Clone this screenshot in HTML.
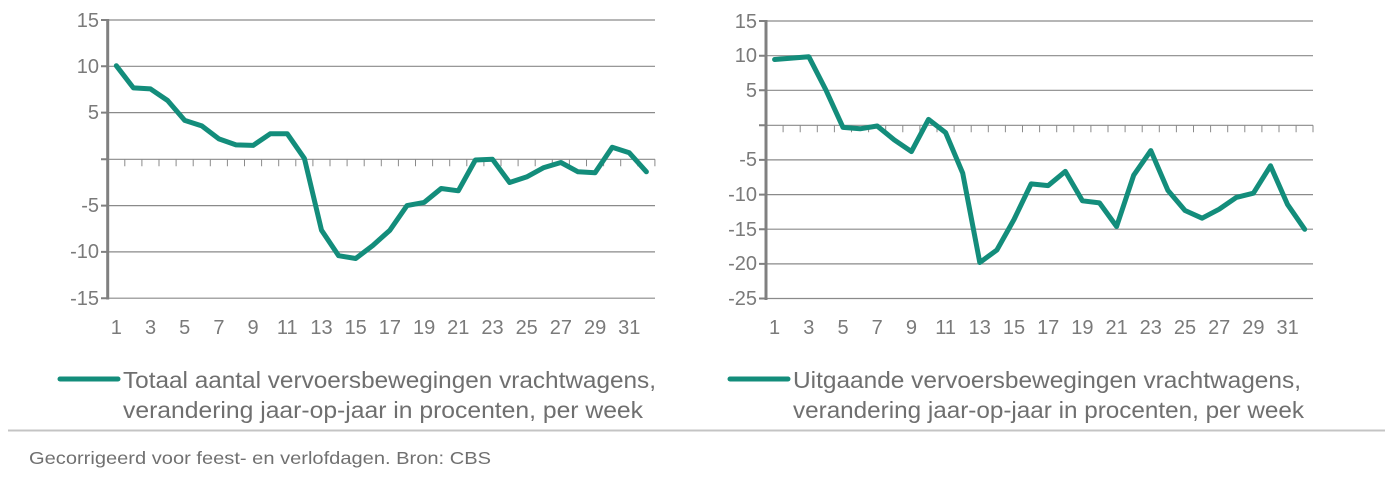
<!DOCTYPE html>
<html><head><meta charset="utf-8"><style>
html,body{margin:0;padding:0;background:#fff;}
svg{display:block;font-family:"Liberation Sans",Arial,sans-serif;}
</style></head><body>
<svg width="1391" height="482" viewBox="0 0 1391 482" xmlns="http://www.w3.org/2000/svg">
<g stroke="#8a8a8a" stroke-width="1.2">
<line x1="107.7" y1="20" x2="655" y2="20"/>
<line x1="107.7" y1="66.3" x2="655" y2="66.3"/>
<line x1="107.7" y1="112.6" x2="655" y2="112.6"/>
<line x1="107.7" y1="205.6" x2="655" y2="205.6"/>
<line x1="107.7" y1="251.9" x2="655" y2="251.9"/>
<line x1="107.7" y1="298.2" x2="655" y2="298.2"/>
<line x1="766" y1="21" x2="1313" y2="21"/>
<line x1="766" y1="55.7" x2="1313" y2="55.7"/>
<line x1="766" y1="90.3" x2="1313" y2="90.3"/>
<line x1="766" y1="159.9" x2="1313" y2="159.9"/>
<line x1="766" y1="194.6" x2="1313" y2="194.6"/>
<line x1="766" y1="229.2" x2="1313" y2="229.2"/>
<line x1="766" y1="263.9" x2="1313" y2="263.9"/>
<line x1="766" y1="298.5" x2="1313" y2="298.5"/>
<line x1="107.7" y1="159.3" x2="655" y2="159.3"/>
<line x1="766" y1="125.3" x2="1313" y2="125.3"/>
</g>
<g stroke="#8a8a8a" stroke-width="1">
<path d="M124.8 159.3v7M141.9 159.3v7M159 159.3v7M176.1 159.3v7M193.2 159.3v7M210.3 159.3v7M227.4 159.3v7M244.5 159.3v7M261.6 159.3v7M278.7 159.3v7M295.8 159.3v7M312.9 159.3v7M330 159.3v7M347.1 159.3v7M364.2 159.3v7M381.3 159.3v7M398.4 159.3v7M415.5 159.3v7M432.6 159.3v7M449.7 159.3v7M466.8 159.3v7M483.9 159.3v7M501 159.3v7M518.1 159.3v7M535.2 159.3v7M552.3 159.3v7M569.4 159.3v7M586.5 159.3v7M603.6 159.3v7M620.7 159.3v7M637.8 159.3v7M654.9 159.3v7"/>
<path d="M783.1 125.3v7M800.2 125.3v7M817.3 125.3v7M834.4 125.3v7M851.5 125.3v7M868.6 125.3v7M885.7 125.3v7M902.8 125.3v7M919.9 125.3v7M937 125.3v7M954.1 125.3v7M971.2 125.3v7M988.3 125.3v7M1005.4 125.3v7M1022.5 125.3v7M1039.6 125.3v7M1056.7 125.3v7M1073.8 125.3v7M1090.9 125.3v7M1108 125.3v7M1125.1 125.3v7M1142.2 125.3v7M1159.3 125.3v7M1176.4 125.3v7M1193.5 125.3v7M1210.6 125.3v7M1227.7 125.3v7M1244.8 125.3v7M1261.9 125.3v7M1279 125.3v7M1296.1 125.3v7M1313 125.3v7"/>
</g>
<g stroke="#808080" stroke-width="3">
<line x1="107.7" y1="19" x2="107.7" y2="299.5"/>
<line x1="766" y1="20" x2="766" y2="300"/>
</g>
<g stroke="#808080" stroke-width="2">
<path d="M101 20h7M101 66.3h7M101 112.6h7M101 159.3h7M101 205.6h7M101 251.9h7M101 298.2h7"/>
<path d="M759 21h7M759 55.7h7M759 90.3h7M759 125.3h7M759 159.9h7M759 194.6h7M759 229.2h7M759 263.9h7M759 298.5h7"/>
</g>
<polyline fill="none" stroke="#138d7b" stroke-width="5" stroke-linejoin="round" stroke-linecap="round" points="116.3,65.7 133.4,87.9 150.5,88.9 167.6,100.5 184.7,120.4 201.8,125.9 218.9,138.9 236,144.9 253.1,145.4 270.2,133.8 287.3,133.8 304.4,158.4 321.5,230.2 338.6,255.7 355.7,258.5 372.8,245.5 389.9,230.2 407,205.6 424.1,202.4 441.2,188.5 458.3,190.8 475.4,160 492.5,159.3 509.6,182.5 526.7,176.9 543.8,167.6 560.9,162.5 578,171.8 595.1,172.7 612.2,147.3 629.3,152.8 646.4,171.8"/>
<polyline fill="none" stroke="#138d7b" stroke-width="5" stroke-linejoin="round" stroke-linecap="round" points="774.6,59.5 791.7,58.1 808.8,56.7 825.9,90 843,127.4 860.1,128.8 877.2,126 894.3,139.9 911.4,151.6 928.5,119.4 945.6,132.6 962.7,173.1 979.8,262.5 996.9,250 1014,219.5 1031.1,183.9 1048.2,185.6 1065.3,171.4 1082.4,200.8 1099.5,202.9 1116.6,226.5 1133.7,175.2 1150.8,150.6 1167.9,190.4 1185,210.5 1202.1,218.2 1219.2,209.2 1236.3,197.4 1253.4,193.2 1270.5,165.8 1287.6,204.6 1304.7,229.3"/>
<g fill="#7a7a7a" font-size="20" text-anchor="end">
<text x="99" y="27">15</text><text x="99" y="73">10</text><text x="99" y="119">5</text><text x="99" y="212">-5</text><text x="99" y="258">-10</text><text x="99" y="305">-15</text>
<text x="757" y="28">15</text><text x="757" y="62">10</text><text x="757" y="97">5</text><text x="757" y="166">-5</text><text x="757" y="201">-10</text><text x="757" y="236">-15</text><text x="757" y="270">-20</text><text x="757" y="305">-25</text>
</g>
<g fill="#7a7a7a" font-size="20" text-anchor="middle">
<text x="116.3" y="334">1</text><text x="150.5" y="334">3</text><text x="184.7" y="334">5</text><text x="218.9" y="334">7</text><text x="253.1" y="334">9</text><text x="287.3" y="334">11</text><text x="321.5" y="334">13</text><text x="355.7" y="334">15</text><text x="389.9" y="334">17</text><text x="424.1" y="334">19</text><text x="458.3" y="334">21</text><text x="492.5" y="334">23</text><text x="526.7" y="334">25</text><text x="560.9" y="334">27</text><text x="595.1" y="334">29</text><text x="629.3" y="334">31</text>
<text x="774.6" y="334">1</text><text x="808.8" y="334">3</text><text x="843" y="334">5</text><text x="877.2" y="334">7</text><text x="911.4" y="334">9</text><text x="945.6" y="334">11</text><text x="979.8" y="334">13</text><text x="1014" y="334">15</text><text x="1048.2" y="334">17</text><text x="1082.4" y="334">19</text><text x="1116.6" y="334">21</text><text x="1150.8" y="334">23</text><text x="1185" y="334">25</text><text x="1219.2" y="334">27</text><text x="1253.4" y="334">29</text><text x="1287.6" y="334">31</text>
</g>
<line x1="60" y1="379" x2="118" y2="379" stroke="#138d7b" stroke-width="5" stroke-linecap="round"/>
<line x1="730" y1="379" x2="788" y2="379" stroke="#138d7b" stroke-width="5" stroke-linecap="round"/>
<g fill="#6f6f6f" font-size="23">
<text x="123" y="388" textLength="533" lengthAdjust="spacingAndGlyphs">Totaal aantal vervoersbewegingen vrachtwagens,</text>
<text x="123" y="418" textLength="520" lengthAdjust="spacingAndGlyphs">verandering jaar-op-jaar in procenten, per week</text>
<text x="793" y="388" textLength="508" lengthAdjust="spacingAndGlyphs">Uitgaande vervoersbewegingen vrachtwagens,</text>
<text x="793" y="418" textLength="511" lengthAdjust="spacingAndGlyphs">verandering jaar-op-jaar in procenten, per week</text>
</g>
<line x1="8" y1="430.5" x2="1385" y2="430.5" stroke="#c4c4c4" stroke-width="2"/>
<text x="29" y="464" fill="#707070" font-size="17.5" textLength="462" lengthAdjust="spacingAndGlyphs">Gecorrigeerd voor feest- en verlofdagen. Bron: CBS</text>
</svg>
</body></html>
